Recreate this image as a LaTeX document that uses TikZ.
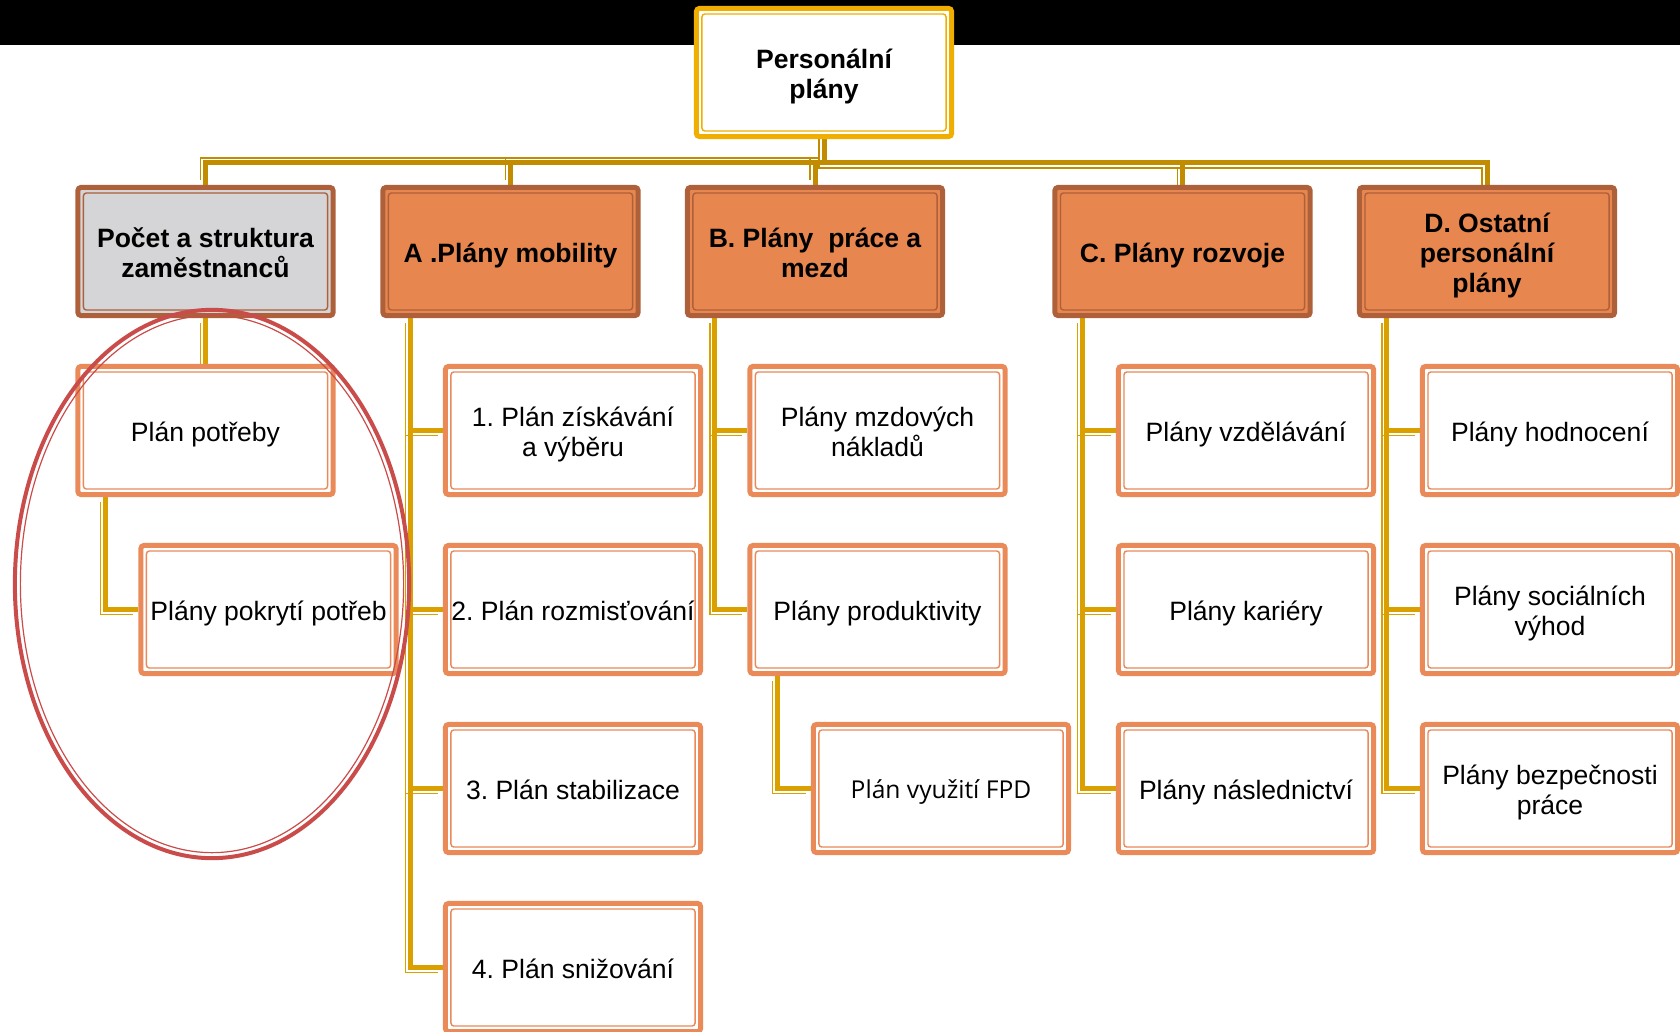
\documentclass[tikz,border=0pt]{standalone}
\usepackage{fontspec}
\setmainfont{Liberation Sans}
\newfontfamily\fpdfont{Open Sans}
\frenchspacing
\usetikzlibrary{backgrounds}
\definecolor{rootgold}{HTML}{F0AE00}
\definecolor{bargold}{HTML}{C28C00}
\definecolor{linkgold}{HTML}{D9A000}
\definecolor{catfill}{HTML}{E8864F}
\definecolor{catline}{HTML}{AD603A}
\definecolor{greyfill}{HTML}{D5D5D7}
\definecolor{leafline}{HTML}{E98A58}
\definecolor{ringred}{HTML}{C94C4A}
\tikzset{
  inner line/.style={path picture={\draw[line width=0.014cm, #1]
    ([shift={(0.055cm,0.055cm)}]path picture bounding box.south west) rectangle
    ([shift={(-0.055cm,-0.055cm)}]path picture bounding box.north east);}},
  box/.style={rectangle, rounded corners=0.03cm, text width=2.5cm, align=flush center, inner sep=0pt,
    minimum width=2.55cm, minimum height=1.28cm, line width=0.05cm,
    font=\fontsize{7.55}{8.6}\selectfont,
    execute at begin node={\vrule width0pt height1.02em depth0pt},
    execute at end node={\vrule width0pt height0pt depth0.21em}},
  root/.style={box, draw=rootgold, fill=white, inner line=rootgold, font=\fontsize{7.55}{8.6}\selectfont\bfseries},
  cat/.style={box, draw=catline, fill=catfill, inner line=catline, font=\fontsize{7.55}{8.6}\selectfont\bfseries},
  leaf/.style={box, draw=leafline, fill=white, inner line=leafline},
  link/.style={draw=linkgold, line width=0.05cm,
    preaction={draw=linkgold, line width=0.015cm, transform canvas={shift={(-0.05cm,-0.05cm)}}}},
  barlink/.style={draw=bargold, line width=0.05cm,
    preaction={draw=bargold, line width=0.015cm, transform canvas={shift={(-0.05cm,#1)}}}},
  ring/.style={draw=ringred, line width=0.04cm}
}
\begin{document}
\begin{tikzpicture}[x=0.01cm, y=-0.01cm]
\useasboundingbox (0,0) rectangle (1680,1031);
\fill[black] (0,0) rectangle (1680,45);

\node[root] (root) at (824,72.5) {Personální\\plány};
\coordinate (bar) at (0,163);

\node[cat, fill=greyfill] (pocet) at (205.5,251.5) {Počet a struktura\\zaměstnanců};
\node[cat] (mob) at (510.5,251.5) {A .Plány mobility};
\node[cat] (mzd) at (815,251.5) {B. Plány\ \ práce a\\mezd};
\node[cat] (roz) at (1182.5,251.5) {C. Plány rozvoje};
\node[cat] (ost) at (1487,251.5) {D. Ostatní\\personální\\plány};

\node[leaf] (pocet1) at (205.5,430.5) {Plán potřeby};
\node[leaf] (pocet2) at (268.5,609.5) {Plány pokrytí potřeb};

\node[leaf] (mob1) at (573,430.5) {1. Plán získávání\\a výběru};
\node[leaf] (mob2) at (573,609.5) {2. Plán rozmisťování};
\node[leaf] (mob3) at (573,788.5) {3. Plán stabilizace};
\node[leaf] (mob4) at (573,967.5) {4. Plán snižování};

\node[leaf] (mzd1) at (877.5,430.5) {Plány mzdových\\nákladů};
\node[leaf] (mzd2) at (877.5,609.5) {Plány produktivity};
\node[leaf, font=\fpdfont\fontsize{7}{8.4}\selectfont] (mzd3) at (941,788.5) {Plán využití FPD};

\node[leaf] (roz1) at (1246,430.5) {Plány vzdělávání};
\node[leaf] (roz2) at (1246,609.5) {Plány kariéry};
\node[leaf] (roz3) at (1246,788.5) {Plány následnictví};

\node[leaf] (ost1) at (1550,430.5) {Plány hodnocení};
\node[leaf] (ost2) at (1550,609.5) {Plány sociálních\\výhod};
\node[leaf] (ost3) at (1550,788.5) {Plány bezpečnosti\\práce};

\begin{scope}[on background layer]
  \draw[barlink=0.05cm] (root.south) -- (root.south |- bar) -| (pocet.north);
  \draw[barlink=0.05cm] (root.south) -- (root.south |- bar) -| (mob.north);
  \draw[barlink=0.05cm] (root.south) -- (root.south |- bar) -| (mzd.north);
  \draw[barlink=-0.05cm] (root.south) -- (root.south |- bar) -| (roz.north);
  \draw[barlink=-0.05cm] (root.south) -- (root.south |- bar) -| (ost.north);

  \draw[link] (pocet.south) -- (pocet1.north);
  \draw[link] ([xshift=0.3cm]pocet1.south west) |- (pocet2.west);
  \draw[link] ([xshift=0.3cm]mob.south west) |- (mob1.west);
  \draw[link] ([xshift=0.3cm]mob.south west) |- (mob2.west);
  \draw[link] ([xshift=0.3cm]mob.south west) |- (mob3.west);
  \draw[link] ([xshift=0.3cm]mob.south west) |- (mob4.west);
  \draw[link] ([xshift=0.3cm]mzd.south west) |- (mzd1.west);
  \draw[link] ([xshift=0.3cm]mzd.south west) |- (mzd2.west);
  \draw[link] ([xshift=0.3cm]mzd2.south west) |- (mzd3.west);
  \draw[link] ([xshift=0.3cm]roz.south west) |- (roz1.west);
  \draw[link] ([xshift=0.3cm]roz.south west) |- (roz2.west);
  \draw[link] ([xshift=0.3cm]roz.south west) |- (roz3.west);
  \draw[link] ([xshift=0.3cm]ost.south west) |- (ost1.west);
  \draw[link] ([xshift=0.3cm]ost.south west) |- (ost2.west);
  \draw[link] ([xshift=0.3cm]ost.south west) |- (ost3.west);
\end{scope}

\draw[ring] (212,584) ellipse [x radius=1.97cm, y radius=2.74cm];
\draw[ring, line width=0.012cm] (212,584) ellipse [x radius=1.915cm, y radius=2.685cm];
\end{tikzpicture}
\end{document}
